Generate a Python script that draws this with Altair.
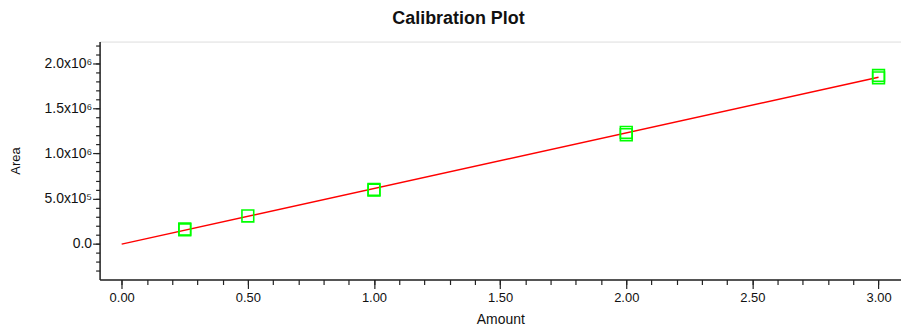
import altair as alt
import pandas as pd

# ---- data ----
amount = [0.25, 0.25, 0.5, 1.0, 1.0, 2.0, 2.0, 3.0, 3.0]
area = [154000, 162000, 307000, 593000, 600000, 1207000, 1233000, 1837000, 1863000]

fit_amount = [0.0, 3.0]
fit_area = [-5000, 1843000]

x_major = [0.0, 0.5, 1.0, 1.5, 2.0, 2.5, 3.0]
x_major_labels = ["0.00", "0.50", "1.00", "1.50", "2.00", "2.50", "3.00"]
x_minor = [round(i * 0.1, 1) for i in range(31)]

y_major = [0, 500000, 1000000, 1500000, 2000000]
y_major_labels = ["0.0", "5.0x10\u2075", "1.0x10\u2076", "1.5x10\u2076", "2.0x10\u2076"]
y_minor = [i * 100000 for i in range(-3, 23)]

FONT = "Liberation Sans"


def label_expr(values, labels, tol):
    expr = "''"
    for v, l in reversed(list(zip(values, labels))):
        expr = f"abs(datum.value - ({v})) < {tol} ? '{l}' : ({expr})"
    return expr


pts = pd.DataFrame({"Amount": amount, "Area": area})
fit = pd.DataFrame({"Amount": fit_amount, "Area": fit_area})

x_scale = alt.Scale(domain=[-0.0876, 3.089], nice=False, zero=False)
y_scale = alt.Scale(domain=[-397000, 2239000], nice=False, zero=False)

common = dict(
    grid=False,
    domainColor="#222222",
    domainWidth=1.5,
    tickColor="#222222",
    tickWidth=1.2,
    labelFont=FONT,
    labelColor="#111111",
    labelOverlap=False,
    titleFont=FONT,
    titleColor="#111111",
    titleFontWeight="normal",
)

x_axis = alt.Axis(
    title="Amount",
    orient="bottom",
    values=x_major,
    labelExpr=label_expr(x_major, x_major_labels, 1e-6),
    tickSize=9,
    labelFontSize=13,
    labelPadding=3,
    titleFontSize=14,
    titleBaseline="middle",
    titleY=40,
    **common,
)
x_axis_minor = alt.Axis(
    title=None,
    orient="bottom",
    values=x_minor,
    labels=False,
    domain=False,
    tickSize=5,
    grid=False,
    tickColor="#222222",
    tickWidth=1.2,
)

y_axis = alt.Axis(
    title="Area",
    orient="left",
    values=y_major,
    labelExpr=label_expr(y_major, y_major_labels, 1),
    tickSize=7,
    labelFontSize=14,
    labelPadding=1,
    titleFontSize=13,
    titleBaseline="middle",
    titleX=-84,
    **common,
)
y_axis_minor = alt.Axis(
    title=None,
    orient="left",
    values=y_minor,
    labels=False,
    domain=False,
    tickSize=4,
    grid=False,
    tickColor="#222222",
    tickWidth=1.2,
)

minor = alt.Chart(fit).mark_line(opacity=0).encode(
    x=alt.X("Amount:Q", scale=x_scale, axis=x_axis_minor),
    y=alt.Y("Area:Q", scale=y_scale, axis=y_axis_minor),
)

line = alt.Chart(fit).mark_line(color="#FF0000", strokeWidth=1.5).encode(
    x=alt.X("Amount:Q", scale=x_scale, axis=x_axis),
    y=alt.Y("Area:Q", scale=y_scale, axis=y_axis),
)

squares = alt.Chart(pts).mark_square(
    filled=False, color="#00FF00", size=140, strokeWidth=1.6, opacity=1
).encode(
    x=alt.X("Amount:Q", scale=x_scale, axis=None),
    y=alt.Y("Area:Q", scale=y_scale, axis=None),
)

chart = (
    alt.layer(minor, line, squares)
    .resolve_axis(x="independent", y="independent")
    .properties(
        width=805,
        height=239,
        autosize=alt.AutoSizeParams(type="none"),
        padding={"left": 92, "top": 33, "right": 0, "bottom": 48},
        title=alt.TitleParams(
            "Calibration Plot",
            font=FONT,
            fontSize=18,
            fontWeight="bold",
            color="#111111",
            anchor="middle",
            dx=-42,
            offset=14,
        ),
    )
    .configure_view(stroke="#222222", strokeWidth=1.5)
    .configure(background="white")
)

chart.save("out.html", embed_options={"renderer": "svg", "actions": False})
